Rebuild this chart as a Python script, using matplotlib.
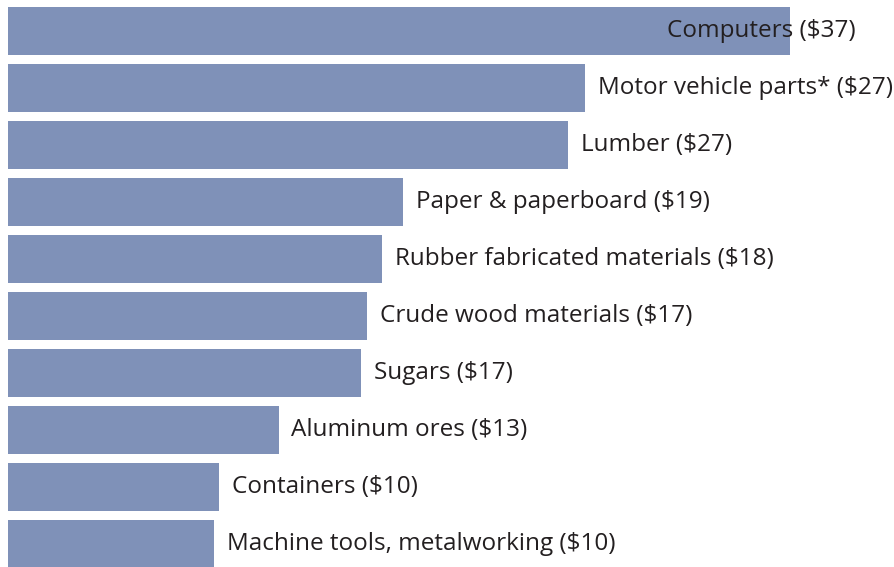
import matplotlib
matplotlib.use("Agg")
import matplotlib.pyplot as plt

# Data: top imports, billions of dollars (bar lengths)
categories = ["Computers", "Motor vehicle parts*", "Lumber", "Paper & paperboard",
              "Rubber fabricated materials", "Crude wood materials", "Sugars",
              "Aluminum ores", "Containers", "Machine tools, metalworking"]
values = [37.0, 27.3, 26.5, 18.7, 17.7, 17.0, 16.7, 12.8, 10.0, 9.75]
labels = ["$37", "$27", "$27", "$19", "$18", "$17", "$17", "$13", "$10", "$10"]

BAR_COLOR = "#7f91b8"
TEXT_COLOR = "#231f20"

plt.rcParams['font.family'] = ['Open Sans', 'DejaVu Sans']

fig = plt.figure(figsize=(8.94, 5.67), dpi=100)
ax = fig.add_axes([0, 0, 1, 1])

pos = list(range(len(categories)))
ax.barh(pos, values, height=0.842, color=BAR_COLOR, left=0)

px = 21.14  # pixels per unit
ax.set_xlim(-8 / px, (894 - 8) / px)
ax.set_ylim((567 - 31) / 57, -31 / 57)

for i, (cat, v, lab) in enumerate(zip(categories, values, labels)):
    txt = f"{cat} ({lab})"
    if i == 0:
        # label doesn't fit past the bar end, pull it inside
        ax.text((856 - 8) / px, i, txt, ha="right", va="center",
                fontsize=17.5, color=TEXT_COLOR)
    else:
        ax.annotate(txt, (v, i), xytext=(9, 0), textcoords="offset points",
                    ha="left", va="center", fontsize=17.5, color=TEXT_COLOR)

ax.axis("off")
fig.savefig("out.png", dpi=100)
